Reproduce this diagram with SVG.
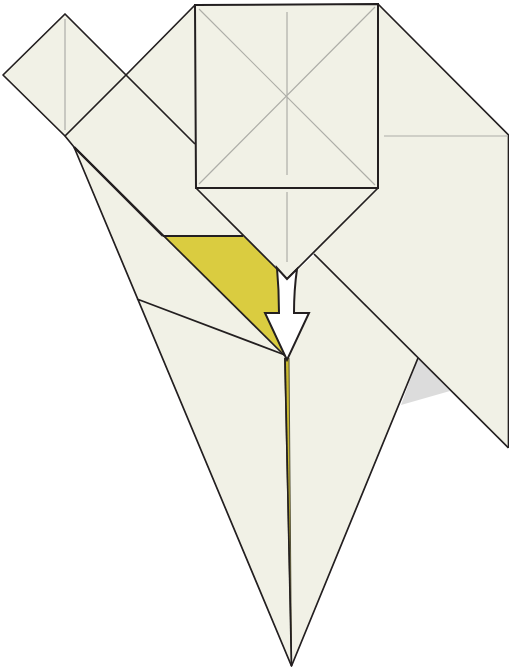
<svg xmlns="http://www.w3.org/2000/svg" width="509" height="671" viewBox="0 0 509 671">
<style>
.p{fill:#f1f1e6;stroke:none}
.l{fill:none;stroke:#231f20;stroke-width:1.7;stroke-linejoin:round}
.c{fill:none;stroke:#aeaea8;stroke-width:1.2}
</style>
<rect width="509" height="671" fill="#fff"/>
<g id="shadow"><path d="M418 358L450 391L401 405Z" fill="#dcdcdc"/></g>
<g id="back-panel">
<path class="p" d="M126 75L195 5L378 4L508.500 135V448L315 255L196 144Z"/>
<path class="l" d="M126 75L195 5M378 4L508.500 135V448"/>
<path class="c" d="M384 136H508"/>
</g>
<g id="lower-kite">
<path class="p" d="M74 147L163 236H243L287 280L418 358L291.500 666Z"/>
<path class="p" d="M287 279L315 255L418 358L291.500 666L285 355Z"/>
<path class="l" d="M74 147L291.500 666L418 358M137 299L285 355"/>
<path class="l" d="M508.500 448L314 254"/>
</g>
<g id="left-square">
<path class="p" d="M65 14L3 75L65 136L126 75Z"/>
<path class="l" d="M65 136L3 75L65 14L126 75"/>
<path class="c" d="M65 19V130"/>
</g>
<g id="band">
<path class="p" d="M65 136L126 75L196 144V188L243 236H163Z"/>
<path class="l" d="M74 147L65 136L126 75L195 144"/>
</g>
<g id="gold-flap">
<path d="M163 236H243L277 268L279 313H265L285 355Z" fill="#dacc40"/>
<path d="M163 236H243" fill="none" stroke="#231f20" stroke-width="2"/>
<path class="l" d="M74 147L285 356"/>
<path d="M74 147L163 236" fill="none" stroke="#231f20" stroke-width="2.400"/>
<path d="M284.500 358H289L291.500 666Z" fill="#c9b92f" stroke="#55523a" stroke-width="1"/>
<path class="l" d="M285 358L291.500 666"/>
</g>
<g id="center-square">
<path class="p" d="M195 5L378 4V188L287 279L196 188Z"/>
<path class="l" d="M196 188L287 279L378 188"/>
<path d="M195 5L378 4V188H196Z" fill="none" stroke="#231f20" stroke-width="2"/>
<path class="c" d="M199 9L375 185M375 7L199 184M287 12V175M287 192V262"/>
</g>
<g id="arrow">
<path d="M277 268L287 279L297 269Q294 290 294 313H309L287 360L265 313H279Q279 290 277 268Z" fill="#fff" stroke="#231f20" stroke-width="2" stroke-linejoin="miter"/>
</g>
</svg>
